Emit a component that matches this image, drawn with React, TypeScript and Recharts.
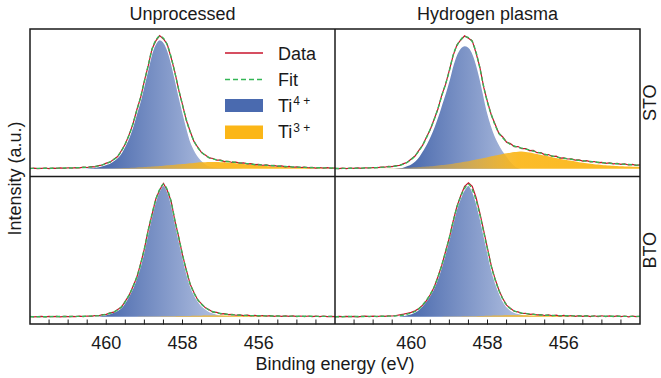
import React from "react";
import { Area, ComposedChart, Line, XAxis, YAxis } from "recharts";

// binding energy grid (eV), 0.1 eV steps, high -> low
const energy = [
  462.0, 461.9, 461.8, 461.7, 461.6, 461.5, 461.4, 461.3, 461.2, 461.1,
  461.0, 460.9, 460.8, 460.7, 460.6, 460.5, 460.4, 460.3, 460.2, 460.1,
  460.0, 459.9, 459.8, 459.7, 459.6, 459.5, 459.4, 459.3, 459.2, 459.1,
  459.0, 458.9, 458.8, 458.7, 458.6, 458.5, 458.4, 458.3, 458.2, 458.1,
  458.0, 457.9, 457.8, 457.7, 457.6, 457.5, 457.4, 457.3, 457.2, 457.1,
  457.0, 456.9, 456.8, 456.7, 456.6, 456.5, 456.4, 456.3, 456.2, 456.1,
  456.0, 455.9, 455.8, 455.7, 455.6, 455.5, 455.4, 455.3, 455.2, 455.1,
  455.0, 454.9, 454.8, 454.7, 454.6, 454.5, 454.4, 454.3, 454.2, 454.1,
  454.0,
];

const energyTicks = [461.5, 461, 460.5, 460, 459.5, 459, 458.5, 458, 457.5, 457, 456.5, 456, 455.5, 455, 454.5];
const labeledTicks = [460, 458, 456];

// STO, unprocessed
const stoRawData = [
  0.002, 0.005, 0.001, 0.004, 0.006, 0.002, 0.005, 0.003, 0.007, 0.004,
  0.008, 0.005, 0.009, 0.007, 0.012, 0.01, 0.016, 0.015, 0.024, 0.029,
  0.043, 0.05, 0.073, 0.093, 0.138, 0.187, 0.258, 0.337, 0.444, 0.536,
  0.664, 0.776, 0.905, 0.965, 1.005, 0.98, 0.94, 0.84, 0.73, 0.596,
  0.484, 0.366, 0.284, 0.207, 0.163, 0.122, 0.104, 0.082, 0.078, 0.065,
  0.066, 0.055, 0.057, 0.048, 0.051, 0.043, 0.045, 0.037, 0.039, 0.031,
  0.034, 0.027, 0.03, 0.023, 0.026, 0.019, 0.022, 0.015, 0.018, 0.012,
  0.015, 0.01, 0.013, 0.008, 0.011, 0.006, 0.01, 0.005, 0.009, 0.004,
  0.007,
];
const stoRawFit = [
  0.003, 0.003, 0.003, 0.003, 0.004, 0.004, 0.004, 0.005, 0.005, 0.006,
  0.006, 0.007, 0.008, 0.009, 0.01, 0.012, 0.014, 0.017, 0.022, 0.03,
  0.04, 0.052, 0.07, 0.095, 0.135, 0.19, 0.255, 0.34, 0.44, 0.54,
  0.66, 0.78, 0.9, 0.97, 1.0, 0.985, 0.935, 0.845, 0.725, 0.6,
  0.48, 0.37, 0.28, 0.21, 0.16, 0.125, 0.1, 0.085, 0.075, 0.068,
  0.063, 0.058, 0.054, 0.051, 0.048, 0.045, 0.042, 0.039, 0.036, 0.033,
  0.031, 0.029, 0.027, 0.025, 0.023, 0.021, 0.019, 0.017, 0.016, 0.014,
  0.013, 0.012, 0.011, 0.01, 0.009, 0.008, 0.008, 0.007, 0.007, 0.006,
  0.006,
];
const stoRawTi4 = [
  0, 0, 0, 0, 0, 0, 0, 0.001, 0.001, 0.001,
  0.002, 0.002, 0.003, 0.004, 0.005, 0.007, 0.009, 0.012, 0.017, 0.024,
  0.034, 0.046, 0.063, 0.087, 0.125, 0.178, 0.242, 0.325, 0.424, 0.523,
  0.642, 0.762, 0.88, 0.948, 0.975, 0.958, 0.905, 0.812, 0.69, 0.562,
  0.44, 0.325, 0.22, 0.15, 0.1, 0.065, 0.04, 0.025, 0.018, 0.014,
  0.012, 0.01, 0.009, 0.008, 0.007, 0.006, 0.005, 0.005, 0.004, 0.004,
  0.003, 0.003, 0.003, 0.002, 0.002, 0.002, 0.002, 0.002, 0.001, 0.001,
  0.001, 0.001, 0.001, 0.001, 0.001, 0, 0, 0, 0, 0,
  0,
];
const stoRawTi3 = [
  0, 0, 0, 0, 0, 0, 0, 0, 0, 0,
  0, 0, 0, 0, 0, 0.001, 0.001, 0.001, 0.002, 0.002,
  0.002, 0.003, 0.003, 0.004, 0.005, 0.006, 0.007, 0.008, 0.01, 0.011,
  0.013, 0.015, 0.017, 0.019, 0.021, 0.024, 0.026, 0.029, 0.031, 0.034,
  0.037, 0.039, 0.042, 0.044, 0.047, 0.049, 0.05, 0.051, 0.052, 0.052,
  0.05, 0.049, 0.047, 0.045, 0.042, 0.04, 0.037, 0.034, 0.032, 0.029,
  0.027, 0.025, 0.022, 0.02, 0.018, 0.016, 0.014, 0.013, 0.011, 0.01,
  0.008, 0.007, 0.006, 0.006, 0.005, 0.004, 0.004, 0.003, 0.003, 0.002,
  0.002,
];

// STO, hydrogen plasma
const stoPlasmaData = [
  0.004, 0.001, 0.005, 0.002, 0.006, 0.003, 0.007, 0.004, 0.008, 0.006,
  0.01, 0.008, 0.013, 0.012, 0.018, 0.016, 0.024, 0.026, 0.039, 0.049,
  0.074, 0.096, 0.139, 0.178, 0.24, 0.297, 0.374, 0.451, 0.556, 0.637,
  0.745, 0.856, 0.935, 0.972, 1.004, 0.985, 0.965, 0.874, 0.765, 0.616,
  0.505, 0.406, 0.336, 0.266, 0.24, 0.201, 0.19, 0.168, 0.168, 0.152,
  0.153, 0.138, 0.139, 0.122, 0.123, 0.106, 0.108, 0.093, 0.095, 0.08,
  0.083, 0.074, 0.075, 0.066, 0.067, 0.058, 0.061, 0.052, 0.055, 0.046,
  0.049, 0.041, 0.045, 0.037, 0.041, 0.033, 0.037, 0.029, 0.033, 0.026,
  0.029,
];
const stoPlasmaFit = [
  0.002, 0.002, 0.003, 0.003, 0.004, 0.004, 0.005, 0.005, 0.006, 0.007,
  0.008, 0.009, 0.011, 0.013, 0.015, 0.017, 0.021, 0.027, 0.036, 0.05,
  0.07, 0.098, 0.135, 0.18, 0.235, 0.3, 0.37, 0.455, 0.55, 0.64,
  0.74, 0.86, 0.93, 0.975, 0.998, 0.99, 0.96, 0.88, 0.76, 0.62,
  0.5, 0.41, 0.33, 0.27, 0.235, 0.205, 0.185, 0.172, 0.163, 0.156,
  0.149, 0.142, 0.134, 0.126, 0.118, 0.11, 0.103, 0.097, 0.09, 0.084,
  0.08, 0.076, 0.072, 0.068, 0.064, 0.061, 0.058, 0.055, 0.052, 0.049,
  0.046, 0.044, 0.042, 0.04, 0.038, 0.036, 0.034, 0.032, 0.03, 0.028,
  0.026,
];
const stoPlasmaTi4 = [
  0, 0, 0, 0, 0, 0, 0, 0, 0, 0,
  0, 0, 0.001, 0.001, 0.002, 0.004, 0.006, 0.01, 0.016, 0.026,
  0.04, 0.062, 0.095, 0.14, 0.19, 0.25, 0.32, 0.4, 0.49, 0.58,
  0.68, 0.79, 0.87, 0.915, 0.93, 0.92, 0.88, 0.8, 0.69, 0.56,
  0.43, 0.33, 0.25, 0.19, 0.14, 0.1, 0.06, 0.03, 0.012, 0.004,
  0, 0, 0, 0, 0, 0, 0, 0, 0, 0,
  0, 0, 0, 0, 0, 0, 0, 0, 0, 0,
  0, 0, 0, 0, 0, 0, 0, 0, 0, 0,
  0,
];
const stoPlasmaTi3 = [
  0, 0, 0, 0, 0, 0, 0.001, 0.001, 0.001, 0.001,
  0.002, 0.002, 0.002, 0.003, 0.003, 0.004, 0.005, 0.006, 0.007, 0.008,
  0.01, 0.011, 0.013, 0.015, 0.017, 0.02, 0.022, 0.025, 0.028, 0.031,
  0.035, 0.039, 0.043, 0.048, 0.053, 0.058, 0.064, 0.07, 0.076, 0.082,
  0.088, 0.094, 0.1, 0.106, 0.112, 0.117, 0.122, 0.126, 0.129, 0.131,
  0.127, 0.123, 0.118, 0.112, 0.106, 0.1, 0.094, 0.088, 0.082, 0.076,
  0.07, 0.065, 0.06, 0.055, 0.05, 0.046, 0.042, 0.038, 0.035, 0.032,
  0.029, 0.027, 0.025, 0.023, 0.021, 0.019, 0.018, 0.017, 0.016, 0.015,
  0.014,
];

// BTO, unprocessed
const btoRawData = [
  0.003, 0.0, 0.002, 0.004, 0.0, 0.003, 0.001, 0.004, 0.0, 0.003,
  0.001, 0.004, 0.002, 0.005, 0.002, 0.006, 0.004, 0.009, 0.008, 0.016,
  0.018, 0.03, 0.035, 0.056, 0.074, 0.118, 0.162, 0.229, 0.297, 0.399,
  0.512, 0.654, 0.771, 0.889, 0.957, 1.006, 0.955, 0.874, 0.726, 0.604,
  0.466, 0.354, 0.247, 0.184, 0.127, 0.098, 0.068, 0.053, 0.035, 0.033,
  0.022, 0.024, 0.016, 0.019, 0.012, 0.015, 0.009, 0.013, 0.007, 0.011,
  0.006, 0.01, 0.005, 0.009, 0.004, 0.008, 0.003, 0.007, 0.003, 0.007,
  0.002, 0.006, 0.002, 0.006, 0.001, 0.005, 0.001, 0.005, 0.001, 0.004,
  0.002,
];
const btoRawFit = [
  0.001, 0.001, 0.001, 0.001, 0.001, 0.001, 0.002, 0.002, 0.002, 0.002,
  0.002, 0.003, 0.003, 0.003, 0.004, 0.005, 0.006, 0.007, 0.009, 0.013,
  0.019, 0.027, 0.037, 0.052, 0.076, 0.115, 0.165, 0.225, 0.3, 0.395,
  0.515, 0.65, 0.775, 0.885, 0.96, 1.0, 0.96, 0.87, 0.73, 0.6,
  0.47, 0.35, 0.25, 0.18, 0.13, 0.095, 0.07, 0.05, 0.038, 0.03,
  0.025, 0.021, 0.018, 0.016, 0.014, 0.012, 0.011, 0.01, 0.009, 0.008,
  0.008, 0.007, 0.007, 0.006, 0.006, 0.006, 0.005, 0.005, 0.005, 0.005,
  0.004, 0.004, 0.004, 0.004, 0.004, 0.003, 0.003, 0.003, 0.003, 0.003,
  0.003,
];
const btoRawTi4 = [
  0, 0, 0, 0, 0, 0, 0, 0, 0, 0,
  0, 0, 0.001, 0.001, 0.002, 0.003, 0.004, 0.005, 0.007, 0.011,
  0.017, 0.025, 0.035, 0.05, 0.073, 0.112, 0.161, 0.221, 0.296, 0.39,
  0.51, 0.645, 0.77, 0.88, 0.955, 0.993, 0.952, 0.862, 0.722, 0.592,
  0.462, 0.342, 0.242, 0.172, 0.122, 0.086, 0.061, 0.042, 0.03, 0.022,
  0.016, 0.012, 0.01, 0.008, 0.006, 0.005, 0.004, 0.003, 0.003, 0.002,
  0.002, 0.002, 0.001, 0.001, 0.001, 0.001, 0.001, 0, 0, 0,
  0, 0, 0, 0, 0, 0, 0, 0, 0, 0,
  0,
];
const btoRawTi3 = [
  0, 0, 0, 0, 0, 0, 0, 0, 0, 0,
  0, 0, 0, 0, 0, 0, 0, 0, 0, 0,
  0, 0, 0, 0, 0.001, 0.001, 0.001, 0.001, 0.001, 0.002,
  0.002, 0.002, 0.003, 0.003, 0.003, 0.004, 0.004, 0.005, 0.005, 0.006,
  0.006, 0.007, 0.007, 0.008, 0.008, 0.008, 0.009, 0.009, 0.009, 0.009,
  0.009, 0.009, 0.008, 0.008, 0.007, 0.007, 0.006, 0.006, 0.005, 0.005,
  0.004, 0.004, 0.003, 0.003, 0.002, 0.002, 0.002, 0.001, 0.001, 0.001,
  0.001, 0, 0, 0, 0, 0, 0, 0, 0, 0,
  0,
];

// BTO, hydrogen plasma
const btoPlasmaData = [
  0.0, 0.003, 0.001, 0.004, 0.001, 0.004, 0.0, 0.003, 0.005, 0.002,
  0.005, 0.002, 0.006, 0.003, 0.007, 0.006, 0.01, 0.015, 0.02, 0.027,
  0.034, 0.045, 0.063, 0.088, 0.122, 0.168, 0.223, 0.302, 0.388, 0.493,
  0.597, 0.723, 0.835, 0.915, 0.985, 1.012, 0.985, 0.9, 0.782, 0.65,
  0.517, 0.384, 0.285, 0.2, 0.138, 0.088, 0.064, 0.042, 0.037, 0.025,
  0.027, 0.019, 0.021, 0.014, 0.017, 0.01, 0.014, 0.008, 0.012, 0.006,
  0.011, 0.005, 0.01, 0.004, 0.009, 0.003, 0.009, 0.002, 0.008, 0.002,
  0.008, 0.001, 0.007, 0.002, 0.007, 0.001, 0.006, 0.0, 0.005, 0.001,
  0.004,
];
const btoPlasmaFit = [
  0.001, 0.001, 0.001, 0.002, 0.002, 0.002, 0.002, 0.002, 0.003, 0.003,
  0.003, 0.003, 0.004, 0.004, 0.005, 0.005, 0.007, 0.01, 0.014, 0.02,
  0.028, 0.04, 0.06, 0.09, 0.125, 0.17, 0.225, 0.3, 0.39, 0.49,
  0.6, 0.72, 0.83, 0.91, 0.97, 1.0, 0.96, 0.88, 0.77, 0.64,
  0.51, 0.38, 0.28, 0.2, 0.135, 0.09, 0.062, 0.045, 0.035, 0.028,
  0.024, 0.021, 0.018, 0.016, 0.014, 0.012, 0.011, 0.01, 0.009, 0.009,
  0.008, 0.008, 0.007, 0.007, 0.006, 0.006, 0.006, 0.005, 0.005, 0.005,
  0.005, 0.004, 0.004, 0.004, 0.004, 0.004, 0.003, 0.003, 0.003, 0.003,
  0.003,
];
const btoPlasmaTi4 = [
  0, 0, 0, 0, 0, 0, 0, 0, 0, 0,
  0, 0, 0.001, 0.001, 0.002, 0.002, 0.004, 0.007, 0.011, 0.017,
  0.025, 0.037, 0.057, 0.087, 0.122, 0.167, 0.222, 0.296, 0.386, 0.486,
  0.596, 0.716, 0.826, 0.905, 0.964, 0.992, 0.951, 0.87, 0.758, 0.627,
  0.496, 0.366, 0.266, 0.187, 0.124, 0.08, 0.053, 0.036, 0.026, 0.02,
  0.015, 0.012, 0.01, 0.008, 0.007, 0.006, 0.005, 0.004, 0.003, 0.003,
  0.002, 0.002, 0.002, 0.001, 0.001, 0.001, 0.001, 0, 0, 0,
  0, 0, 0, 0, 0, 0, 0, 0, 0, 0,
  0,
];
const btoPlasmaTi3 = [
  0, 0, 0, 0, 0, 0, 0, 0, 0, 0,
  0, 0, 0, 0, 0, 0, 0, 0, 0, 0,
  0, 0, 0, 0, 0, 0.001, 0.001, 0.001, 0.001, 0.002,
  0.002, 0.002, 0.003, 0.003, 0.004, 0.004, 0.005, 0.005, 0.006, 0.007,
  0.008, 0.008, 0.009, 0.01, 0.01, 0.011, 0.011, 0.011, 0.011, 0.011,
  0.011, 0.01, 0.01, 0.009, 0.008, 0.008, 0.007, 0.006, 0.006, 0.005,
  0.005, 0.004, 0.004, 0.003, 0.003, 0.002, 0.002, 0.002, 0.001, 0.001,
  0.001, 0.001, 0, 0, 0, 0, 0, 0, 0, 0,
  0,
];

const FONT = "'Liberation Sans', Arial, Helvetica, sans-serif";
const INK = "#1a1a1a";
const DATA_RED = "#c8142c";
const FIT_GREEN = "#34b656";

const PANEL_W = 305;
const PANEL_H = 147.5;
const AXIS_H = 32;
const X0 = 30;
const Y0 = 29;

const EnergyTick = (props: any) => {
  const { x, y, payload } = props;
  const v = payload.value;
  return (
    <g>
      <line x1={x} x2={x} y1={y} y2={y - 5} stroke={INK} strokeWidth={1} />
      {labeledTicks.includes(v) && (
        <text x={x} y={y + 24.5} textAnchor="middle" fontSize={18} fontFamily={FONT} fill={INK}>
          {v}
        </text>
      )}
    </g>
  );
};

const Panel: React.FC<{
  id: string;
  left: number;
  top: number;
  data: number[];
  fit: number[];
  ti4: number[];
  ti3: number[];
  showX: boolean;
  showYTick: boolean;
}> = ({ id, left, top, data, fit, ti4, ti3, showX, showYTick }) => {
  const rows = energy.map((e, i) => ({
    e,
    data: data[i],
    fit: fit[i],
    ti4: ti4[i],
    ti3: ti3[i],
  }));
  return (
    <div style={{ position: "absolute", left, top }}>
      <ComposedChart
        width={PANEL_W}
        height={PANEL_H + (showX ? AXIS_H : 0)}
        data={rows}
        margin={{ top: 0, right: 0, bottom: 0, left: 0 }}
      >
        <defs>
          <linearGradient id={`ti4-${id}`} x1="0" y1="0" x2="1" y2="0">
            <stop offset="0.2" stopColor="#4061a8" />
            <stop offset="0.58" stopColor="#a8b8dc" />
          </linearGradient>
          <linearGradient id={`ti3-${id}`} x1="0" y1="0" x2="1" y2="0">
            <stop offset="0.22" stopColor="#d8a640" stopOpacity={0.45} />
            <stop offset="0.6" stopColor="#fbb617" stopOpacity={0.92} />
            <stop offset="1" stopColor="#fbb617" stopOpacity={0.95} />
          </linearGradient>
        </defs>
        <XAxis
          type="number"
          dataKey="e"
          domain={[454, 462]}
          reversed
          allowDataOverflow
          hide={!showX}
          height={AXIS_H}
          ticks={energyTicks}
          interval={0}
          tickSize={0}
          tickMargin={0}
          axisLine={false}
          tickLine={false}
          tick={(p: any) => <EnergyTick {...p} />}
        />
        <YAxis
          type="number"
          domain={[-0.058, 1.055]}
          allowDataOverflow
          hide={!showYTick}
          mirror
          ticks={[0]}
          tickSize={4}
          tick={false}
          axisLine={false}
          tickLine={{ stroke: INK, strokeWidth: 1 }}
        />
        <Area
          type="monotone"
          dataKey="ti4"
          baseValue={0}
          fill={`url(#ti4-${id})`}
          fillOpacity={1}
          stroke="#ffffff"
          strokeWidth={1.5}
          isAnimationActive={false}
        />
        <Area
          type="monotone"
          dataKey="ti3"
          baseValue={0}
          fill={`url(#ti3-${id})`}
          fillOpacity={1}
          stroke="none"
          isAnimationActive={false}
        />
        <Line
          type="linear"
          dataKey="data"
          stroke={DATA_RED}
          strokeWidth={1.2}
          dot={false}
          isAnimationActive={false}
        />
        <Line
          type="monotone"
          dataKey="fit"
          stroke={FIT_GREEN}
          strokeWidth={1.4}
          strokeDasharray="4 2.5"
          dot={false}
          isAnimationActive={false}
        />
      </ComposedChart>
    </div>
  );
};

export default function App() {
  const xMid = X0 + PANEL_W;
  const yMid = Y0 + PANEL_H;
  const xEnd = X0 + 2 * PANEL_W;
  const yEnd = Y0 + 2 * PANEL_H;
  return (
    <div
      style={{
        position: "absolute",
        left: 0,
        top: 0,
        width: 661,
        height: 378,
        overflow: "hidden",
        background: "#ffffff",
        fontFamily: FONT,
      }}
    >
      <Panel id="a" left={X0} top={Y0} data={stoRawData} fit={stoRawFit} ti4={stoRawTi4} ti3={stoRawTi3} showX={false} showYTick />
      <Panel id="b" left={xMid} top={Y0} data={stoPlasmaData} fit={stoPlasmaFit} ti4={stoPlasmaTi4} ti3={stoPlasmaTi3} showX={false} showYTick={false} />
      <Panel id="c" left={X0} top={yMid} data={btoRawData} fit={btoRawFit} ti4={btoRawTi4} ti3={btoRawTi3} showX showYTick />
      <Panel id="d" left={xMid} top={yMid} data={btoPlasmaData} fit={btoPlasmaFit} ti4={btoPlasmaTi4} ti3={btoPlasmaTi3} showX showYTick={false} />

      <svg
        width={661}
        height={378}
        style={{ position: "absolute", left: 0, top: 0, pointerEvents: "none" }}
      >
        {/* frames */}
        <rect x={X0} y={Y0} width={2 * PANEL_W} height={2 * PANEL_H} fill="none" stroke={INK} strokeWidth={1.5} />
        <line x1={xMid} x2={xMid} y1={Y0} y2={yEnd} stroke={INK} strokeWidth={1.5} />
        <line x1={X0} x2={xEnd} y1={yMid} y2={yMid} stroke={INK} strokeWidth={1.5} />

        {/* titles */}
        <text x={X0 + PANEL_W / 2} y={20} textAnchor="middle" fontSize={18} fill={INK} fontFamily={FONT}>
          Unprocessed
        </text>
        <text x={xMid + PANEL_W / 2} y={20} textAnchor="middle" fontSize={18} fill={INK} fontFamily={FONT}>
          Hydrogen plasma
        </text>
        <text x={335} y={370} textAnchor="middle" fontSize={18} fill={INK} fontFamily={FONT}>
          Binding energy (eV)
        </text>
        <text
          x={21}
          y={178.5}
          textAnchor="middle"
          fontSize={18}
          fill={INK}
          fontFamily={FONT}
          transform="rotate(-90 21 178.5)"
        >
          Intensity (a.u.)
        </text>
        <text x={656} y={Y0 + PANEL_H / 2} textAnchor="middle" fontSize={18} fill={INK} fontFamily={FONT} transform={`rotate(-90 656 ${Y0 + PANEL_H / 2})`}>
          STO
        </text>
        <text x={656} y={yMid + PANEL_H / 2} textAnchor="middle" fontSize={18} fill={INK} fontFamily={FONT} transform={`rotate(-90 656 ${yMid + PANEL_H / 2})`}>
          BTO
        </text>

        {/* legend */}
        <line x1={225} x2={263} y1={53} y2={53} stroke={DATA_RED} strokeWidth={1.5} />
        <text x={278} y={60} fontSize={18} fill={INK} fontFamily={FONT}>Data</text>
        <line x1={225} x2={263} y1={79.5} y2={79.5} stroke={FIT_GREEN} strokeWidth={1.5} strokeDasharray="5 3" />
        <text x={278} y={85.5} fontSize={18} fill={INK} fontFamily={FONT}>Fit</text>
        <rect x={225} y={99} width={38} height={13} fill="#4a6aaf" />
        <text x={278} y={111.5} fontSize={18} fill={INK} fontFamily={FONT}>
          Ti
          <tspan dx={1} dy={-6.5} fontSize={12}>4 +</tspan>
        </text>
        <rect x={225} y={125.5} width={38} height={13.5} fill="#fbb617" />
        <text x={278} y={138} fontSize={18} fill={INK} fontFamily={FONT}>
          Ti
          <tspan dx={1} dy={-6.5} fontSize={12}>3 +</tspan>
        </text>
      </svg>
    </div>
  );
}
